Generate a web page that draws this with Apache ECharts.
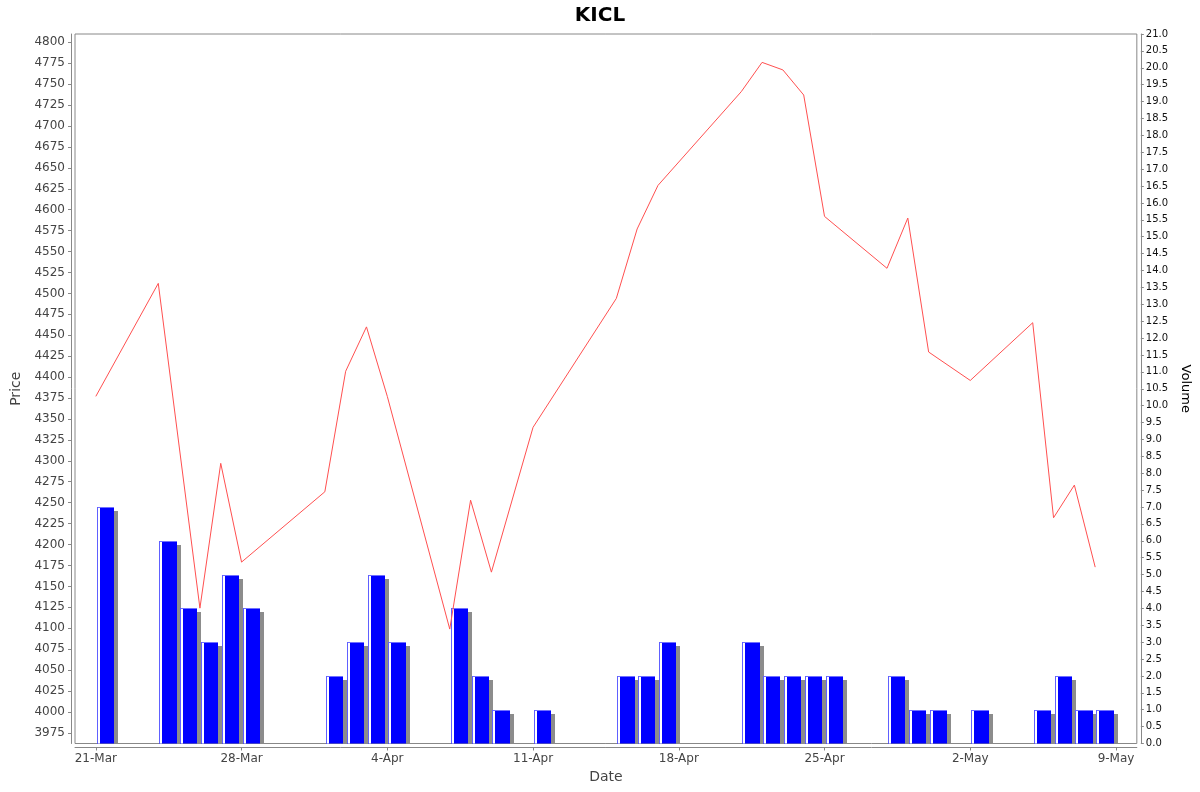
<!DOCTYPE html>
<html>
<head>
<meta charset="utf-8">
<script src="https://cdn.jsdelivr.net/npm/echarts@6/dist/echarts.min.js"></script>
<style>html,body{margin:0;padding:0;background:#fff}#c{width:1200px;height:792px}</style>
</head>
<body>
<div id="c"></div>
<script>
const title = 'KICL';
const dates = ['2025-03-21','2025-03-24','2025-03-25','2025-03-26','2025-03-27','2025-03-28','2025-04-01','2025-04-02','2025-04-03','2025-04-04','2025-04-07','2025-04-08','2025-04-09','2025-04-11','2025-04-15','2025-04-16','2025-04-17','2025-04-21','2025-04-22','2025-04-23','2025-04-24','2025-04-25','2025-04-28','2025-04-29','2025-04-30','2025-05-02','2025-05-05','2025-05-06','2025-05-07','2025-05-08'];
const price = [4377,4512,null,4124,4297,4179,4263,4407,4460,4377,4099,4253,4167,4340,4494,4577,4629,4741,4776,4767,4737,4592,4530,4590,4430,4396,4465,4232,4271,4173];
const volume = [7,6,4,3,5,4,2,3,5,3,4,2,1,1,2,2,3,3,2,2,2,2,2,1,1,1,1,2,1,1];
const dateTicks = ['2025-03-21','2025-03-28','2025-04-04','2025-04-11','2025-04-18','2025-04-25','2025-05-02','2025-05-09'];
const priceTicks = [3975,4000,4025,4050,4075,4100,4125,4150,4175,4200,4225,4250,4275,4300,4325,4350,4375,4400,4425,4450,4475,4500,4525,4550,4575,4600,4625,4650,4675,4700,4725,4750,4775,4800];

const MON = ['Jan','Feb','Mar','Apr','May','Jun','Jul','Aug','Sep','Oct','Nov','Dec'];
const DAY = 86400000;
function toUTC(s){const p=s.split('-').map(Number);return Date.UTC(p[0],p[1]-1,p[2]);}
const base = toUTC(dates[0]);
function dayOf(s){return Math.round((toUTC(s)-base)/DAY);}
function labelOf(v){const d=new Date(base+Math.round(v)*DAY);return d.getUTCDate()+'-'+MON[d.getUTCMonth()];}

const lineData = dates.map((d,i)=>[dayOf(d), price[i]]);
const barData = dates.map((d,i)=>[dayOf(d), volume[i]]);
const xTickVals = dateTicks.map(dayOf);

const FONT = 'DejaVu Sans';
const chart = echarts.init(document.getElementById('c'), null, {renderer:'canvas'});
chart.setOption({
  animation:false,
  backgroundColor:'#ffffff',
  title:{text:title,left:'center',top:1,textStyle:{fontFamily:FONT,fontSize:20,fontWeight:'bold',color:'#000'}},
  grid:{left:75,right:61,top:34,bottom:48.5,show:true,borderColor:'#888',borderWidth:1,backgroundColor:'#fff'},
  xAxis:{type:'value',min:-1,max:50,offset:4,
    name:'Date',nameLocation:'middle',nameGap:23,nameTextStyle:{fontFamily:FONT,fontSize:14,color:'#444'},
    axisLine:{show:true,onZero:false,lineStyle:{color:'#888'}},
    axisTick:{show:true,length:3,customValues:xTickVals,lineStyle:{color:'#888'}},
    axisLabel:{customValues:xTickVals,formatter:labelOf,fontFamily:FONT,fontSize:12,color:'#444',margin:5},
    splitLine:{show:false}},
  yAxis:[
    {type:'value',min:3962.3,max:4809.9,position:'left',offset:4,
     name:'Price',nameLocation:'middle',nameGap:44,nameTextStyle:{fontFamily:FONT,fontSize:14,color:'#444'},
     axisLine:{show:true,onZero:false,lineStyle:{color:'#888'}},
     axisTick:{show:true,length:3,customValues:priceTicks,lineStyle:{color:'#888'}},
     axisLabel:{customValues:priceTicks,formatter:v=>String(Math.round(v)),fontFamily:FONT,fontSize:12,color:'#444',margin:6},
     splitLine:{show:false}},
    {type:'value',min:0,max:21,interval:0.5,position:'right',offset:4,
     name:'Volume',nameLocation:'middle',nameGap:33,nameRotate:-90,nameTextStyle:{fontFamily:FONT,fontSize:13,color:'#000'},
     axisLine:{show:true,onZero:false,lineStyle:{color:'#888'}},
     axisTick:{show:true,length:3,lineStyle:{color:'#888'}},
     axisLabel:{formatter:v=>v.toFixed(1),fontFamily:FONT,fontSize:10,color:'#111',margin:5},
     splitLine:{show:false}}
  ],
  series:[
    {type:'custom',yAxisIndex:1,clip:true,z:2,data:barData,encode:{x:0,y:1},
     renderItem:function(params,api){
       const t=api.value(0), v=api.value(1);
       const p0=api.coord([t+0.05,v]);
       const p1=api.coord([t+0.88,0]);
       const x=Math.round(p0[0]), y=Math.round(p0[1]);
       const w=Math.round(p1[0])-x, h=Math.round(p1[1])-y;
       return {type:'group',children:[
         {type:'rect',shape:{x:x+4,y:y+4,width:w,height:h-4},style:{fill:'#8c8c8c'}},
         {type:'rect',shape:{x:x,y:y,width:w,height:h},style:{fill:'#0000ff'}},
         {type:'rect',shape:{x:x,y:y,width:w,height:1},style:{fill:'#7070ff'}},
         {type:'rect',shape:{x:x,y:y,width:1,height:h},style:{fill:'#6060ff'}},
         {type:'rect',shape:{x:x+1,y:y+1,width:2,height:h-1},style:{fill:'#ffffff'}}
       ]};
     }},
    {type:'line',yAxisIndex:0,z:5,data:lineData,connectNulls:true,showSymbol:false,symbol:'none',
     lineStyle:{color:'#ff5050',width:1}}
  ]
});
</script>
</body>
</html>
